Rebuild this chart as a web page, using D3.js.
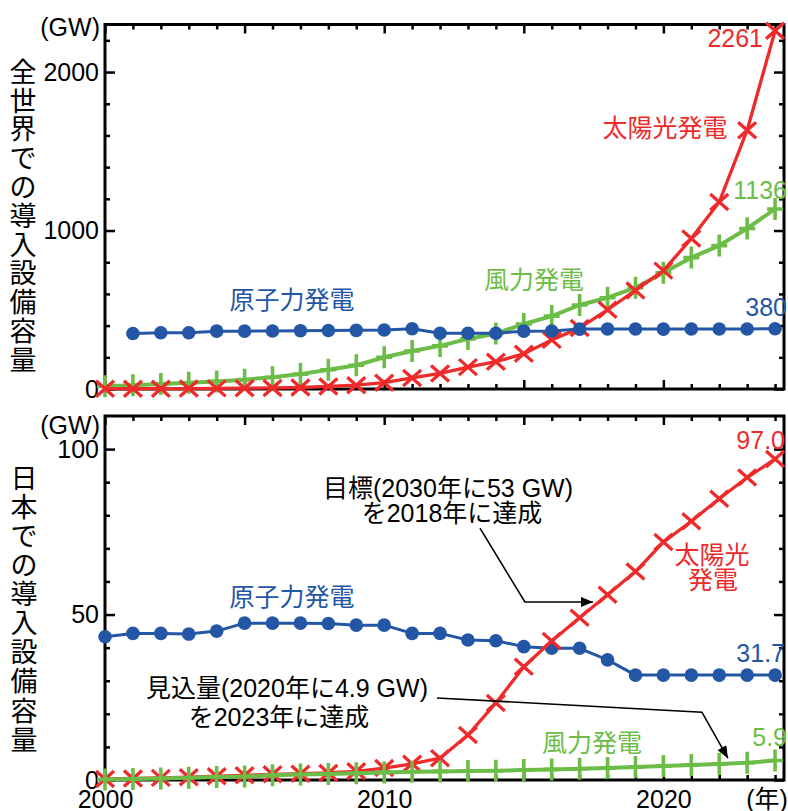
<!DOCTYPE html>
<html>
<head>
<meta charset="utf-8">
<script src="https://cdn.jsdelivr.net/npm/d3@7"></script>
<style>
  body { margin: 0; background: #fff; }
  text { font-family: "Liberation Sans", "Noto Sans CJK JP", sans-serif; }
</style>
</head>
<body>
<div id="chart"></div>
<script>
// Installed capacity, GW
const years = [2000, 2001, 2002, 2003, 2004, 2005, 2006, 2007, 2008, 2009, 2010, 2011,
  2012, 2013, 2014, 2015, 2016, 2017, 2018, 2019, 2020, 2021, 2022, 2023, 2024];

const worldSolar = [1.2, 1.6, 2.2, 2.8, 3.9, 5.3, 6.9, 9.5, 16, 24, 40, 70, 98, 138, 172,
  222, 310, 385, 500, 622, 747, 949, 1180, 1633, 2261];
const worldWind = [17, 24, 31, 39, 48, 59, 74, 94, 121, 150, 200, 240, 272, 316, 350, 410,
  460, 530, 576, 639, 734, 829, 905, 1013, 1136];
const worldNuclear = [null, 350, 355, 355, 365, 365, 366, 368, 369, 370, 372, 380, 352, 352,
  352, 365, 366, 378, 379, 379, 378, 379, 379, 379, 380];

const japanSolar = [0.33, 0.45, 0.64, 0.86, 1.13, 1.42, 1.71, 1.92, 2.14, 2.63, 3.6, 4.9,
  6.6, 13.6, 23.3, 34.2, 42.0, 49.0, 56.0, 63.0, 71.9, 78.2, 85.0, 91.4, 97.0];
const japanWind = [0.14, 0.3, 0.46, 0.68, 0.9, 1.05, 1.4, 1.67, 1.85, 2.05, 2.3, 2.5, 2.6,
  2.7, 2.8, 3.0, 3.2, 3.4, 3.6, 3.9, 4.2, 4.5, 4.8, 5.2, 5.9];
const japanNuclear = [43.3, 44.3, 44.3, 44.1, 45.0, 47.4, 47.4, 47.4, 47.3, 46.8, 46.8, 44.3,
  44.3, 42.3, 42.1, 40.3, 39.8, 39.8, 36.3, 31.7, 31.7, 31.7, 31.7, 31.7, 31.7];

const worldTicks = [0, 1000, 2000];
const worldMinor = [200, 400, 600, 800, 1200, 1400, 1600, 1800, 2200];
const japanTicks = [0, 50, 100];
const japanMinor = [10, 20, 30, 40, 60, 70, 80, 90];
const yearTicks = [2000, 2010, 2020];

const RED = "#ee2a2a";
const GREEN = "#6cbd47";
const BLUE = "#2456a6";

const W = 788;
const H = 811;
const FS = 25;

const svg = d3
  .select("#chart")
  .append("svg")
  .attr("width", W)
  .attr("height", H)
  .style("display", "block");

svg
  .append("defs")
  .append("marker")
  .attr("id", "arrow")
  .attr("viewBox", "0 0 12 10")
  .attr("refX", 12)
  .attr("refY", 5)
  .attr("markerWidth", 13)
  .attr("markerHeight", 10)
  .attr("markerUnits", "userSpaceOnUse")
  .attr("orient", "auto")
  .append("path")
  .attr("d", "M0,0 L12,5 L0,10 Z")
  .attr("fill", "#000");

const x = d3.scaleLinear().domain([2000, 2024.32]).range([105, 784]);

function label(g, txt, px, py, color, anchor = "middle", size = FS) {
  return g
    .append("text")
    .attr("x", px)
    .attr("y", py)
    .attr("dy", "0.36em")
    .attr("text-anchor", anchor)
    .attr("font-size", size)
    .attr("fill", color)
    .text(txt);
}

function verticalTitle(g, txt, px, pyStart, step) {
  Array.from(txt).forEach((ch, i) => {
    label(g, ch, px, pyStart + i * step, "#000", "middle", 27);
  });
}

function drawFrame(y, majorY, minorY, showYears) {
  const g = svg.append("g");
  const [y0, y1] = y.range();
  const [x0, x1] = x.range();

  const styleAxis = (sel) => {
    sel.select(".domain").remove();
    sel.selectAll(".tick line").attr("stroke", "#000").attr("stroke-width", 2.5);
    sel.selectAll("text").attr("font-size", FS).attr("fill", "#000")
      .attr("font-family", "Liberation Sans, sans-serif");
  };

  const yearsMinor = years.filter((d) => d % 5 !== 0);
  const yearsMajor = years.filter((d) => d % 5 === 0);

  // left
  g.append("g").attr("transform", `translate(${x0},0)`)
    .call(d3.axisLeft(y).tickValues(majorY).tickSize(-10).tickPadding(6).tickFormat(d3.format("d")))
    .call(styleAxis);
  g.append("g").attr("transform", `translate(${x0},0)`)
    .call(d3.axisLeft(y).tickValues(minorY).tickSize(-5).tickFormat("")).call(styleAxis);
  // right
  g.append("g").attr("transform", `translate(${x1},0)`)
    .call(d3.axisRight(y).tickValues(majorY).tickSize(-10).tickFormat("")).call(styleAxis);
  g.append("g").attr("transform", `translate(${x1},0)`)
    .call(d3.axisRight(y).tickValues(minorY).tickSize(-5).tickFormat("")).call(styleAxis);
  // top
  g.append("g").attr("transform", `translate(0,${y1})`)
    .call(d3.axisTop(x).tickValues(yearsMajor).tickSize(-9).tickFormat("")).call(styleAxis);
  g.append("g").attr("transform", `translate(0,${y1})`)
    .call(d3.axisTop(x).tickValues(yearsMinor).tickSize(-5).tickFormat("")).call(styleAxis);
  // bottom
  g.append("g").attr("transform", `translate(0,${y0})`)
    .call(d3.axisBottom(x).tickValues(yearsMajor).tickSize(-9).tickFormat("")).call(styleAxis);
  g.append("g").attr("transform", `translate(0,${y0})`)
    .call(d3.axisBottom(x).tickValues(yearsMinor).tickSize(-5).tickFormat("")).call(styleAxis);

  if (showYears) {
    const ax = g.append("g").attr("transform", `translate(0,${y0})`)
      .call(d3.axisBottom(x).tickValues(yearTicks).tickSize(0).tickPadding(10).tickFormat(d3.format("d")))
      .call(styleAxis);
    ax.selectAll(".tick text").attr("dy", "0.71em");
  }

  g.append("rect")
    .attr("x", x0)
    .attr("y", y1)
    .attr("width", x1 - x0)
    .attr("height", y0 - y1)
    .attr("fill", "none")
    .attr("stroke", "#000")
    .attr("stroke-width", 3);
  return g;
}

function drawSeries(y, values, color, marker, width) {
  const g = svg.append("g");
  const pts = years.map((yr, i) => ({ yr, v: values[i] })).filter((d) => d.v != null);
  const line = d3.line().x((d) => x(d.yr)).y((d) => y(d.v));
  g.append("path")
    .datum(pts)
    .attr("fill", "none")
    .attr("stroke", color)
    .attr("stroke-width", width)
    .attr("stroke-linejoin", "round")
    .attr("d", line);

  const m = g.selectAll("g.m").data(pts).join("g")
    .attr("transform", (d) => `translate(${x(d.yr)},${y(d.v)})`);
  if (marker === "circle") {
    m.append("circle").attr("r", 6.8).attr("fill", color);
  } else if (marker === "cross") {
    m.append("path").attr("d", "M-9,-8L9,8M-9,8L9,-8")
      .attr("stroke", color).attr("stroke-width", 3.3).attr("fill", "none");
  } else {
    m.append("path").attr("d", "M0,-11V11M-8,0H8")
      .attr("stroke", color).attr("stroke-width", 3.6).attr("fill", "none");
  }
  return g;
}

function arrow(g, pts) {
  g.append("path")
    .datum(pts)
    .attr("fill", "none")
    .attr("stroke", "#000")
    .attr("stroke-width", 1.6)
    .attr("marker-end", "url(#arrow)")
    .attr("d", d3.line());
}

// ---- upper panel: world ----
const yWorld = d3.scaleLinear().domain([0, 2300]).range([389, 24.5]);
drawFrame(yWorld, worldTicks, worldMinor, false);
drawSeries(yWorld, worldWind, GREEN, "plus", 4);
drawSeries(yWorld, worldSolar, RED, "cross", 3.3);
drawSeries(yWorld, worldNuclear, BLUE, "circle", 3);

const upper = svg.append("g");
label(upper, "(GW)", 100, 27, "#000", "end");
verticalTitle(upper, "全世界での導入設備容量", 23, 72, 28.8);
label(upper, "太陽光発電", 665, 128, RED);
label(upper, worldSolar[worldSolar.length - 1], 763, 38, RED, "end");
label(upper, "風力発電", 534, 280, GREEN);
label(upper, worldWind[worldWind.length - 1], 787, 190, GREEN, "end");
label(upper, "原子力発電", 292, 300, BLUE);
label(upper, worldNuclear[worldNuclear.length - 1], 787, 307, BLUE, "end");

// ---- lower panel: Japan ----
const yJapan = d3.scaleLinear().domain([0, 110]).range([780, 416]);
drawFrame(yJapan, japanTicks, japanMinor, true);
drawSeries(yJapan, japanNuclear, BLUE, "circle", 3);
drawSeries(yJapan, japanSolar, RED, "cross", 3.3);
drawSeries(yJapan, japanWind, GREEN, "plus", 4);

const lower = svg.append("g");
label(lower, "(GW)", 100, 425, "#000", "end");
verticalTitle(lower, "日本での導入設備容量", 24, 478, 29.1);
label(lower, "(年)", 767, 799, "#000");
label(lower, d3.format(".1f")(japanSolar[japanSolar.length - 1]), 785, 440, RED, "end");
label(lower, d3.format(".1f")(japanNuclear[japanNuclear.length - 1]), 785, 653, BLUE, "end");
label(lower, d3.format(".1f")(japanWind[japanWind.length - 1]), 787, 737, GREEN, "end");
label(lower, "太陽光", 712, 555, RED);
label(lower, "発電", 713, 580, RED);
label(lower, "原子力発電", 292, 597, BLUE);
label(lower, "風力発電", 592, 743, GREEN);
label(lower, "目標(2030年に53 GW)", 448, 488, "#000");
label(lower, "を2018年に達成", 452, 513, "#000");
label(lower, "見込量(2020年に4.9 GW)", 287, 688, "#000");
label(lower, "を2023年に達成", 279, 717, "#000");

// annotation arrows, in data units
arrow(lower, [[2013.43, 76.1], [2015.04, 53.8], [2017.48, 53.8]].map(([a, b]) => [x(a), yJapan(b)]));
arrow(lower, [[2011.89, 24.8], [2021.38, 20.5], [2022.31, 6.6]].map(([a, b]) => [x(a), yJapan(b)]));
</script>
</body>
</html>
